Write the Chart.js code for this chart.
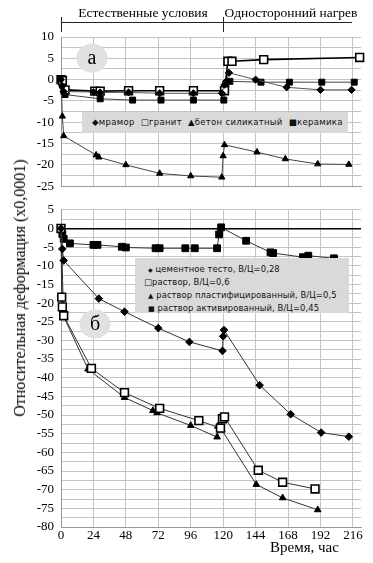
<!DOCTYPE html>
<html>
<head>
<meta charset="utf-8">
<script src="https://cdn.jsdelivr.net/npm/chart.js@4"></script>
<style>
  body { margin: 0; background: #fff; }
  #wrap { position: relative; width: 373px; height: 563px; overflow: hidden; font-family: "Liberation Serif", "Times New Roman", serif; }
  .abs { position: absolute; }
  .hdr { font-size: 13.5px; white-space: nowrap; transform: translate(-50%, -50%); }
  .legend { background: #d9d9d9; font-family: "DejaVu Sans", sans-serif; color: #111; white-space: nowrap; }
  .circ { width: 31px; height: 29px; border-radius: 50%; background: #e1e1e1; font-size: 20px; text-align: center; line-height: 27px; transform: translate(-50%, -50%); }
</style>
</head>
<body>
<div id="wrap">
  <canvas id="topChart" class="abs" style="left:0;top:0" width="373" height="201"></canvas>
  <canvas id="botChart" class="abs" style="left:0;top:195px" width="373" height="357"></canvas>

  <div class="abs hdr" style="left:143px;top:13px">Естественные условия</div>
  <div class="abs hdr" style="left:291px;top:13px">Односторонний нагрев</div>
  <div class="abs" style="left:61px;top:22px;width:291px;height:0;border-top:1px solid #222"></div>
  <div class="abs" style="left:61px;top:17px;width:0;height:15px;border-left:1px solid #222"></div>
  <div class="abs" style="left:223px;top:17px;width:0;height:15px;border-left:1px solid #222"></div>

  <div class="abs circ" style="left:92px;top:58px">а</div>
  <div class="abs circ" style="left:95px;top:324px">б</div>

  <div class="abs legend" style="left:82px;top:112px;width:266px;height:21px;font-size:8.5px;line-height:21px;padding-left:10px;box-sizing:border-box;letter-spacing:0.3px">◆мрамор&nbsp;&nbsp;□гранит&nbsp;&nbsp;▲бетон силикатный&nbsp;&nbsp;■керамика</div>

  <div class="abs legend" style="left:135px;top:258px;width:214px;height:55px;font-size:8.4px;line-height:12.6px;padding-top:4.7px;box-sizing:border-box;letter-spacing:0.1px">
    <div style="padding-left:13px"><span style="font-size:6px">◆</span> цементное тесто, В/Ц=0,28</div>
    <div style="padding-left:9px">□раствор, В/Ц=0,6</div>
    <div style="padding-left:13px"><span style="font-size:7px">▲</span> раствор пластифицированный, В/Ц=0,5</div>
    <div style="padding-left:13px"><span style="font-size:7px">■</span> раствор активированный, В/Ц=0,45</div>
  </div>

  <div class="abs" style="left:20px;top:288px;transform:translate(-50%,-50%) rotate(-90deg);white-space:nowrap;font-size:16px">Относительная деформация (x0,0001)</div>
  <div class="abs" style="left:270px;top:539px;white-space:nowrap;font-size:15px">Время, час</div>
</div>

<script>
// panel a (natural conditions, then one-side heating)
const marbleT = [0, 1, 2, 24, 29, 50, 73, 98, 119, 121, 122.3, 124.3, 144, 167, 192, 215];
const marbleV = [0, -1.5, -2.8, -2.9, -3.0, -3.0, -3.2, -3.2, -3.2, -1.2, -0.4, 1.6, 0, -1.8, -2.4, -2.4];
const graniteT = [0, 1, 3, 25, 29, 50, 73, 98, 121, 123.5, 126.5, 150, 221];
const graniteV = [0, -0.2, -2.4, -2.7, -2.7, -2.6, -2.6, -2.6, -2.6, 4.3, 4.3, 4.7, 5.2];
const concreteT = [0, 1, 2, 26, 28, 48, 73, 96, 119, 120, 121, 145, 166, 190, 213];
const concreteV = [0, -8.6, -13.2, -17.7, -18.2, -20.0, -22.0, -22.6, -22.9, -17.9, -15.3, -17.0, -18.6, -19.8, -19.9];
const ceramicT = [0, 1, 3, 29, 53, 74, 98, 120.5, 122, 125, 148, 169, 193, 217];
const ceramicV = [0, -1.3, -3.5, -4.5, -4.8, -4.8, -4.8, -4.8, -1.0, -0.4, -0.6, -0.6, -0.6, -0.6];

// panel б
const pasteT = [0, 1, 2, 28, 47, 72, 95, 119.5, 120, 120.6, 147, 170, 192.5, 213];
const pasteV = [0, -5.5, -8.6, -18.8, -22.3, -26.7, -30.4, -32.8, -28.9, -27.2, -42, -49.8, -54.7, -55.8];
const mortarT = [0, 0.5, 1, 2, 22.5, 47, 73, 102, 118, 119.5, 121, 146, 164, 188];
const mortarV = [0, -18.4, -21, -23.4, -37.5, -44, -48.2, -51.5, -53.5, -51, -50.5, -64.8, -68, -69.8];
const plastT = [0, 2, 20, 47, 68, 71, 96, 115.5, 116, 119, 144.5, 164, 190];
const plastV = [0, -23.6, -37.7, -45.3, -48.8, -49.4, -52.8, -55.9, -53, -54, -68.6, -72.2, -75.4];
const activT = [0, 1, 2, 6.6, 24, 27, 45, 48, 70, 73, 92, 99, 115.5, 117, 118.5, 137, 155, 157, 179, 183, 202];
const activV = [0, -1.5, -2.8, -4.0, -4.4, -4.4, -4.9, -5.1, -5.3, -5.3, -5.3, -5.3, -5.3, -1.6, 0.3, -3.3, -6.4, -6.6, -7.7, -7.3, -8.0];

const hourTicks = [0, 24, 48, 72, 96, 120, 144, 168, 192, 216];

const pts = (t, v) => t.map((x, i) => ({ x: x, y: v[i] }));
const tickFont = { family: "'Liberation Serif', 'Times New Roman', serif", size: 13 };

function series(t, v, style, radius, fill, lineColor, lineW, borderW) {
    return {
        data: pts(t, v),
        showLine: true,
        borderColor: lineColor,
        borderWidth: lineW,
        pointStyle: style,
        pointRadius: radius,
        pointBackgroundColor: fill,
        pointBorderColor: '#000',
        pointBorderWidth: borderW || 1,
        clip: false
    };
}

function xScale(showLabels) {
    return {
        type: 'linear', min: 0, max: 222,
        afterBuildTicks: s => { s.ticks = hourTicks.map(v => ({ value: v })); },
        afterFit: s => { s.height = showLabels ? 20 : 0; },
        grid: { color: '#c4c4c4', drawTicks: false },
        border: { color: '#999' },
        ticks: { display: showLabels, font: tickFont, color: '#000', padding: 1, maxRotation: 0 }
    };
}

function yScale(min, max, zeroDark) {
    return {
        min: min, max: max,
        afterFit: s => { s.width = 61; },
        grid: {
            drawTicks: false,
            color: c => (zeroDark && c.tick && c.tick.value === 0) ? '#000' : '#c4c4c4',
            lineWidth: c => (zeroDark && c.tick && c.tick.value === 0) ? 1.5 : 1
        },
        border: { color: '#999' },
        ticks: {
            stepSize: 2.5, font: tickFont, color: '#000', padding: 7, autoSkip: false,
            callback: v => (v % 5 === 0 ? v : '')
        }
    };
}

const common = {
    responsive: false,
    animation: false,
    plugins: { legend: { display: false }, tooltip: { enabled: false } }
};

function draw() {
    new Chart(document.getElementById('topChart'), {
        type: 'scatter',
        data: {
            datasets: [
                series(marbleT, marbleV, 'rectRot', 3.6, '#000', '#555', 1),
                series(graniteT, graniteV, 'rect', 5.5, '#fff', '#000', 1.6, 1.6),
                series(concreteT, concreteV, 'triangle', 3.6, '#000', '#444', 1),
                series(ceramicT, ceramicV, 'rect', 4.2, '#000', '#444', 1)
            ]
        },
        options: Object.assign({}, common, {
            layout: { padding: { top: 37, bottom: 5, left: 0, right: 12 } },
            scales: { x: xScale(false), y: yScale(-25, 10, false) }
        })
    });

    new Chart(document.getElementById('botChart'), {
        type: 'scatter',
        data: {
            datasets: [
                series(pasteT, pasteV, 'rectRot', 3.8, '#000', '#333', 1),
                series(mortarT, mortarV, 'rect', 5.5, '#fff', '#333', 1, 1.6),
                series(plastT, plastV, 'triangle', 3.8, '#000', '#333', 1),
                series(activT, activV, 'rect', 4.8, '#000', '#333', 1)
            ]
        },
        options: Object.assign({}, common, {
            layout: { padding: { top: 7, bottom: 5, left: 0, right: 12 } },
            scales: { x: xScale(true), y: yScale(-80, 5, true) }
        })
    });
}

document.fonts.load("13px 'Liberation Serif'").then(draw, draw);
</script>
</body>
</html>
